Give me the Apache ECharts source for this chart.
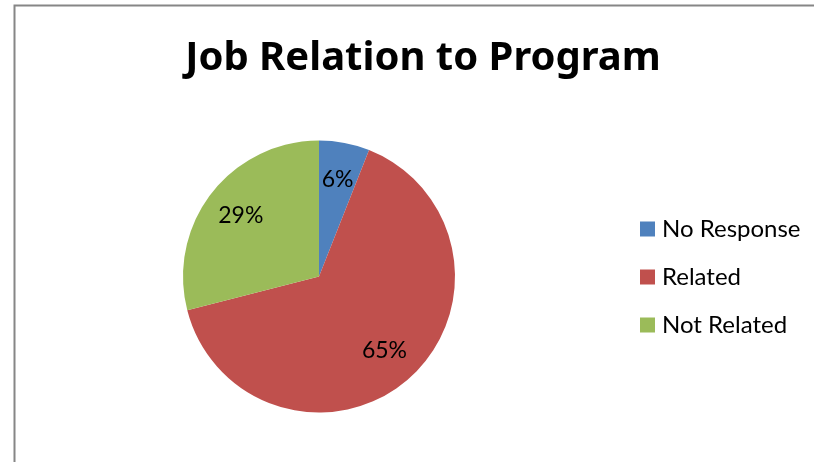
<!DOCTYPE html>
<html>
<head>
<meta charset="utf-8">
<script src="https://cdn.jsdelivr.net/npm/echarts@6/dist/echarts.min.js"></script>
<style>
html,body{margin:0;padding:0;background:#fff;}
#chart{width:814px;height:462px;}
</style>
</head>
<body>
<div id="chart"></div>
<script>
const titleText = 'Job Relation to Program';
const categories = ['No Response', 'Related', 'Not Related'];
const values = [6, 65, 29];
const colors = ['#4F81BD', '#C0504D', '#9BBB59'];

const pieData = categories.map((name, i) => ({ name: name, value: values[i], itemStyle: { color: colors[i] } }));
const labelData = categories.map((name, i) => ({ name: name, value: values[i] }));

const chart = echarts.init(document.getElementById('chart'), null, { renderer: 'canvas' });
chart.setOption({
  animation: false,
  backgroundColor: '#fff',
  graphic: [{
    type: 'rect',
    shape: { x: 14.5, y: 5.5, width: 900, height: 600 },
    style: { fill: 'none', stroke: '#868686', lineWidth: 2 },
    silent: true,
    z: -1
  }],
  title: {
    text: titleText,
    left: 418,
    textAlign: 'center',
    top: 34,
    textStyle: { fontFamily: 'Noto Sans', fontWeight: 'bold', fontSize: 40, color: '#000' }
  },
  legend: {
    orient: 'vertical',
    left: 640,
    top: 217,
    padding: 0,
    itemWidth: 15,
    itemHeight: 15,
    itemGap: 24,
    icon: 'rect',
    data: categories,
    textStyle: { fontFamily: 'Lato', fontSize: 24, color: '#000', lineHeight: 20, padding: [0, 0, 0, 2] }
  },
  series: [
    {
      type: 'pie',
      center: [319, 276.5],
      radius: [0, 136],
      startAngle: 90,
      clockwise: true,
      label: { show: false },
      labelLine: { show: false },
      emphasis: { disabled: true },
      data: pieData
    },
    {
      type: 'pie',
      center: [319, 276.5],
      radius: [56, 136],
      startAngle: 90,
      clockwise: true,
      silent: true,
      itemStyle: { color: 'rgba(0,0,0,0)' },
      label: {
        show: true,
        position: 'inside',
        formatter: '{d}%',
        fontFamily: 'Lato',
        fontSize: 23,
        color: '#000'
      },
      labelLine: { show: false },
      emphasis: { disabled: true },
      data: labelData
    }
  ]
});
</script>
</body>
</html>
